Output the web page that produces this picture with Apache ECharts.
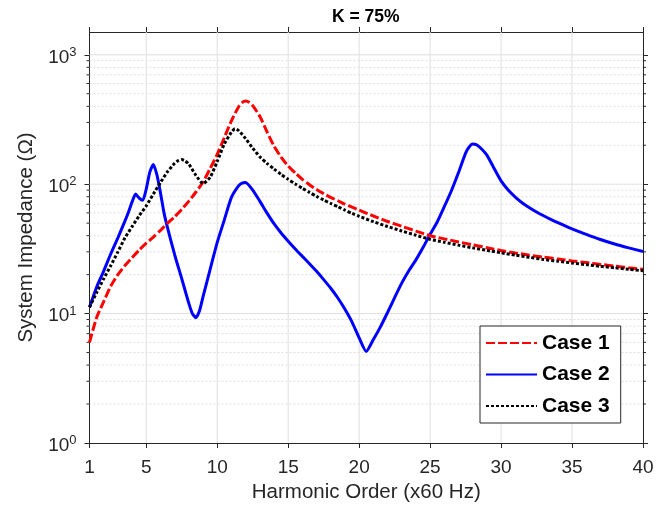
<!DOCTYPE html>
<html><head><meta charset="utf-8">
<script src="https://cdn.jsdelivr.net/npm/echarts@6/dist/echarts.min.js"></script>
<style>html,body{margin:0;padding:0;background:#fff}#c{width:661px;height:512px}</style>
</head><body><div id="c"></div>
<script>
// ---- data ----
const harmonicTicks = [1, 5, 10, 15, 20, 25, 30, 35, 40];
const gridHarmonics = [5, 10, 15, 20, 25, 30, 35];
const impedanceTicks = [1, 10, 100, 1000];
const majorImpedanceGrid = [10, 100, 1000];
const minorImpedance = [2,3,4,5,6,7,8,9, 20,30,40,50,60,70,80,90, 200,300,400,500,600,700,800,900];

const case1X = [1, 1.5, 2, 2.5, 3, 3.5, 4, 4.5, 5, 5.5, 6, 6.5, 7, 7.5, 8, 8.5, 9, 9.5, 10, 10.5, 11, 11.5, 11.75, 12, 12.25, 12.5, 13, 13.5, 14, 14.5, 15, 15.5, 16, 16.5, 17, 17.5, 18, 18.5, 19, 19.5, 20, 21, 22, 23, 24, 25, 26, 27, 28, 29, 30, 31, 32, 33, 34, 35, 36, 37, 38, 39, 40];
const case1Z = [6.0, 9.3, 12.4, 16.3, 20, 23.5, 27, 31, 35, 39, 44, 50, 56, 64, 74, 87, 104, 132, 170, 229, 309, 395, 427, 440, 430, 405, 335, 255, 197, 162, 138, 122, 109, 99, 91, 84.5, 79, 74.5, 70, 66.4, 63, 56.8, 51.5, 47.3, 43.4, 40, 37.8, 35.8, 34, 32.3, 30.7, 29.4, 28.3, 27.3, 26.4, 25.5, 24.8, 24, 23.3, 22.6, 22];

const case2X = [1, 1.5, 2, 2.5, 3, 3.5, 3.75, 4, 4.25, 4.5, 4.75, 5, 5.25, 5.5, 5.75, 6, 6.25, 6.5, 7, 7.5, 8, 8.25, 8.5, 8.75, 9, 9.5, 10, 10.5, 11, 11.5, 11.75, 12, 12.5, 13, 13.5, 14, 14.5, 15, 15.5, 16, 16.5, 17, 17.5, 18, 18.5, 19, 19.5, 20, 20.5, 21, 21.5, 22, 22.5, 23, 23.5, 24, 24.5, 25, 25.5, 26, 26.5, 27, 27.5, 27.75, 28, 28.25, 28.5, 29, 29.5, 30, 30.5, 31, 31.5, 32, 32.5, 33, 33.5, 34, 35, 36, 37, 38, 39, 40];
const case2Z = [11.2, 16, 21.3, 29, 38.5, 52, 61, 73, 84, 78, 75, 92, 124, 142, 118, 86, 60, 46, 28.5, 18.6, 12, 10, 9.3, 10.5, 13.5, 22, 35.5, 53, 79, 97, 102, 103, 90, 74, 60, 49.5, 42, 36.3, 31.6, 27.7, 24.3, 21.2, 18.3, 15.7, 13.2, 10.8, 8.6, 6.5, 5.1, 6.3, 7.9, 10.2, 13.3, 17.2, 21.4, 26, 32.4, 41, 51, 67, 89, 123, 174, 194, 204, 202, 193, 168, 133, 106, 90, 79.5, 71.6, 65.8, 61, 57, 53.5, 50.5, 45.2, 41, 37.4, 34.5, 32.2, 30.2];

const case3X = [1, 1.5, 2, 2.5, 3, 3.5, 4, 4.5, 5, 5.5, 6, 6.5, 7, 7.25, 7.5, 7.75, 8, 8.5, 9, 9.5, 10, 10.5, 11, 11.25, 11.5, 12, 12.5, 13, 13.5, 14, 14.5, 15, 15.5, 16, 16.5, 17, 17.5, 18, 18.5, 19, 19.5, 20, 21, 22, 23, 24, 25, 26, 27, 28, 29, 30, 31, 32, 33, 34, 35, 36, 37, 38, 39, 40];
const case3Z = [11.2, 14.5, 18.6, 23.5, 30, 38.5, 47, 57, 68, 84, 103, 125, 145, 152, 155, 151, 143, 117, 101, 113, 150, 205, 252, 268, 260, 225, 190, 163, 145, 131, 119, 109, 100.5, 93, 86.5, 80.5, 75.5, 71, 67, 63, 59.5, 56.5, 51.3, 47.1, 43.5, 40.3, 37.5, 35.6, 33.8, 32.2, 30.8, 29.5, 28.3, 27.2, 26.2, 25.4, 24.6, 23.9, 23.2, 22.6, 22, 21.4];

const seriesNames = ['Case 1', 'Case 2', 'Case 3'];
// ---------------------------------------

const FONT = "'Liberation Sans', Arial, sans-serif";
const AX = '#262626';
const XMIN = 1, XMAX = 40, YMIN = 1, YMAX = 1500;

function pairs(xs, ys) { return xs.map((x, i) => [x, ys[i]]); }

const chart = echarts.init(document.getElementById('c'), null, {renderer: 'canvas'});

const hGridData = majorImpedanceGrid.map(v => [XMIN, v, 0]).concat(minorImpedance.map(v => [XMIN, v, 1]));
const vGridData = gridHarmonics.map(h => [h, YMIN]);

chart.setOption({
  animation: false,
  backgroundColor: '#fff',
  title: {
    text: 'K = 75%', left: 332, top: 8, padding: 0,
    textStyle: {fontFamily: FONT, fontSize: 17.5, fontWeight: 'bold', color: '#000'}
  },
  grid: {left: 89.5, right: 18, top: 32, bottom: 69, containLabel: false},
  legend: {
    data: seriesNames, orient: 'vertical', left: 480, top: 326,
    padding: [6.5, 11, 6.5, 5], itemWidth: 51, itemHeight: 20, itemGap: 10.5,
    borderColor: AX, borderWidth: 1, backgroundColor: '#fff',
    itemStyle: {opacity: 0},
    textStyle: {fontFamily: FONT, fontSize: 21, fontWeight: 'bold', color: '#000'}
  },
  xAxis: [{
    type: 'value', min: XMIN, max: XMAX, position: 'bottom',
    axisLine: {show: true, onZero: false, lineStyle: {color: AX, width: 1}},
    axisTick: {show: true, customValues: harmonicTicks, length: 5, lineStyle: {color: AX}},
    axisLabel: {customValues: harmonicTicks, color: AX, fontSize: 19, fontFamily: FONT, margin: 15},
    splitLine: {show: false},
    name: 'Harmonic Order (x60 Hz)', nameLocation: 'middle', nameGap: 39,
    nameTextStyle: {fontFamily: FONT, fontSize: 20.5, color: AX}
  }, {
    type: 'value', min: XMIN, max: XMAX, position: 'top',
    axisLine: {show: true, onZero: false, lineStyle: {color: AX, width: 1}},
    axisTick: {show: true, customValues: harmonicTicks, length: 5, lineStyle: {color: AX}},
    axisLabel: {show: false}, splitLine: {show: false}
  }],
  yAxis: [{
    type: 'log', logBase: 10, min: YMIN, max: YMAX, position: 'left',
    axisLine: {show: true, onZero: false, lineStyle: {color: AX, width: 1}},
    axisTick: {show: true, customValues: impedanceTicks, length: 5, lineStyle: {color: AX}},
    axisLabel: {
      customValues: impedanceTicks, margin: 13,
      formatter: v => '{b|10}{s|' + Math.round(Math.log10(v)) + '}',
      rich: {
        b: {fontFamily: FONT, fontSize: 19, color: AX, lineHeight: 24, verticalAlign: 'bottom'},
        s: {fontFamily: FONT, fontSize: 13, color: AX, lineHeight: 13, verticalAlign: 'top', padding: [3, 0, 0, 0]}
      }
    },
    splitLine: {show: false},
    name: 'System Impedance (\u03A9)', nameLocation: 'middle', nameGap: 52,
    nameTextStyle: {fontFamily: FONT, fontSize: 20.5, color: AX}
  }, {
    type: 'log', logBase: 10, min: YMIN, max: YMAX, position: 'right',
    axisLine: {show: true, onZero: false, lineStyle: {color: AX, width: 1}},
    axisTick: {show: true, customValues: impedanceTicks, length: 5, lineStyle: {color: AX}},
    axisLabel: {show: false}, splitLine: {show: false}
  }],
  series: [{
    type: 'custom', name: 'hgrid', silent: true, z: 1, clip: false,
    data: hGridData, encode: {x: 0, y: 1},
    renderItem: function (params, api) {
      const v = api.value(1), minor = api.value(2) === 1;
      const p1 = api.coord([XMIN, v]), p2 = api.coord([XMAX, v]);
      const children = [{
        type: 'line', shape: {x1: p1[0], y1: p1[1], x2: p2[0], y2: p2[1]},
        style: minor ? {stroke: '#dedede', lineWidth: 1, lineDash: [2, 2]} : {stroke: '#dfdfdf', lineWidth: 1}
      }];
      if (minor) {
        children.push({type: 'line', shape: {x1: p1[0] - 3, y1: p1[1], x2: p1[0], y2: p1[1]}, style: {stroke: AX, lineWidth: 1}});
        children.push({type: 'line', shape: {x1: p2[0], y1: p2[1], x2: p2[0] + 3, y2: p2[1]}, style: {stroke: AX, lineWidth: 1}});
      }
      return {type: 'group', children: children};
    }
  }, {
    type: 'custom', name: 'vgrid', silent: true, z: 1, clip: false,
    data: vGridData, encode: {x: 0, y: 1},
    renderItem: function (params, api) {
      const h = api.value(0);
      const p1 = api.coord([h, YMIN]), p2 = api.coord([h, YMAX]);
      return {type: 'line', shape: {x1: p1[0], y1: p1[1], x2: p2[0], y2: p2[1]}, style: {stroke: '#dfdfdf', lineWidth: 1}};
    }
  }, {
    type: 'line', name: 'Case 1', data: pairs(case1X, case1Z), z: 4,
    symbol: 'none', showSymbol: false, smooth: 0.2,
    lineStyle: {color: '#ff0000', width: 3, type: [9, 3]}, itemStyle: {color: '#ff0000'}
  }, {
    type: 'line', name: 'Case 2', data: pairs(case2X, case2Z), z: 3,
    symbol: 'none', showSymbol: false, smooth: 0.2,
    lineStyle: {color: '#0000ff', width: 3, type: 'solid'}, itemStyle: {color: '#0000ff'}
  }, {
    type: 'line', name: 'Case 3', data: pairs(case3X, case3Z), z: 5,
    symbol: 'none', showSymbol: false, smooth: 0.2,
    lineStyle: {color: '#000000', width: 3, type: [3, 2]}, itemStyle: {color: '#000000'}
  }]
});
</script></body></html>
